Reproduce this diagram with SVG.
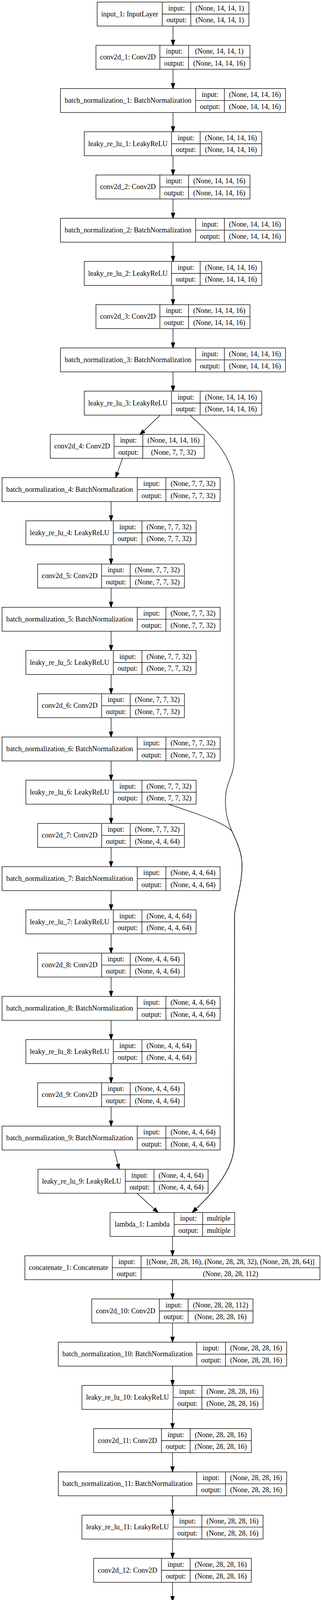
<svg xmlns="http://www.w3.org/2000/svg" width="825" height="4389" viewBox="0 0 825 4389">
<style>
text{font-family:"Liberation Serif","Times New Roman",Times,serif;font-size:18.2px;text-anchor:middle;fill:#000}
.frame{fill:none;stroke:#000;stroke-width:1.33}
#edges path{fill:none;stroke:#000;stroke-width:1.33;marker-end:url(#arr)}
</style>
<defs>
<marker id="arr" markerUnits="userSpaceOnUse" viewBox="0 -5 14 10" refX="0" refY="0" markerWidth="14" markerHeight="10" orient="auto" overflow="visible"><path d="M0,-4.67L13.33,0L0,4.67Z" fill="#000" stroke="#000" stroke-width="1.33"/></marker>
<g id="f-in"><rect x="248.9" y="0" width="388.8" height="61.33"/><path d="M415.7,0V61.33M488.8,0V61.33M415.7,30.67H637.7"/></g>
<g id="f-cT"><rect x="245.8" y="0" width="394.7" height="61.33"/><path d="M409.6,0V61.33M483.1,0V61.33M409.6,30.67H640.5"/></g>
<g id="f-bT"><rect x="154.9" y="0" width="576.6" height="61.33"/><path d="M501.2,0V61.33M574.8,0V61.33M501.2,30.67H731.5"/></g>
<g id="f-lT"><rect x="215.8" y="0" width="454.8" height="61.33"/><path d="M439.5,0V61.33M512.8,0V61.33M439.5,30.67H670.6"/></g>
<g id="f-c4"><rect x="128.7" y="0" width="394.6" height="61.33"/><path d="M292.2,0V61.33M365.8,0V61.33M292.2,30.67H523.3"/></g>
<g id="f-bM"><rect x="5.33" y="0" width="558.67" height="61.33"/><path d="M351.6,0V61.33M425.1,0V61.33M351.6,30.67H564"/></g>
<g id="f-lM"><rect x="66.3" y="0" width="436.2" height="61.33"/><path d="M290.4,0V61.33M363.6,0V61.33M290.4,30.67H502.5"/></g>
<g id="f-cM"><rect x="96.3" y="0" width="376.2" height="61.33"/><path d="M260.4,0V61.33M333.6,0V61.33M260.4,30.67H472.5"/></g>
<g id="f-l9"><rect x="97.3" y="0" width="435.9" height="61.33"/><path d="M321,0V61.33M394.6,0V61.33M321,30.67H533.2"/></g>
<g id="f-lam"><rect x="282" y="0" width="319.4" height="61.33"/><path d="M446.2,0V61.33M519.3,0V61.33M446.2,30.67H601.4"/></g>
<g id="f-cat"><rect x="63.7" y="0" width="756" height="61.33"/><path d="M287.8,0V61.33M361.5,0V61.33M287.8,30.67H819.7"/></g>
<g id="f-c10"><rect x="235.2" y="0" width="413" height="61.33"/><path d="M408.3,0V61.33M482,0V61.33M408.3,30.67H648.2"/></g>
<g id="f-bB"><rect x="149.4" y="0" width="585.1" height="61.33"/><path d="M504,0V61.33M577.7,0V61.33M504,30.67H734.5"/></g>
<g id="f-lB"><rect x="209.9" y="0" width="464.1" height="61.33"/><path d="M443.5,0V61.33M517.2,0V61.33M443.5,30.67H674"/></g>
<g id="f-cB"><rect x="239.9" y="0" width="404.1" height="61.33"/><path d="M413.6,0V61.33M487.2,0V61.33M413.6,30.67H644"/></g>
</defs>
<rect x="0" y="0" width="825" height="4389" fill="#fff"/>

<g id="input_1" transform="translate(0,5.33)"><use href="#f-in" class="frame"/><text x="332.3" y="36.4">input_1: InputLayer</text><text x="452.25" y="21.3">input:</text><text x="452.25" y="52">output:</text><text x="563.25" y="21.3">(None, 14, 14, 1)</text><text x="563.25" y="52">(None, 14, 14, 1)</text></g>
<g id="conv2d_1" transform="translate(0,116)"><use href="#f-cT" class="frame"/><text x="327.7" y="36.4">conv2d_1: Conv2D</text><text x="446.35" y="21.3">input:</text><text x="446.35" y="52">output:</text><text x="561.8" y="21.3">(None, 14, 14, 1)</text><text x="561.8" y="52">(None, 14, 14, 16)</text></g>
<g id="batch_normalization_1" transform="translate(0,226.67)"><use href="#f-bT" class="frame"/><text x="328.05" y="36.4">batch_normalization_1: BatchNormalization</text><text x="538" y="21.3">input:</text><text x="538" y="52">output:</text><text x="653.15" y="21.3">(None, 14, 14, 16)</text><text x="653.15" y="52">(None, 14, 14, 16)</text></g>
<g id="leaky_re_lu_1" transform="translate(0,337.33)"><use href="#f-lT" class="frame"/><text x="327.65" y="36.4">leaky_re_lu_1: LeakyReLU</text><text x="476.15" y="21.3">input:</text><text x="476.15" y="52">output:</text><text x="591.7" y="21.3">(None, 14, 14, 16)</text><text x="591.7" y="52">(None, 14, 14, 16)</text></g>
<g id="conv2d_2" transform="translate(0,448)"><use href="#f-cT" class="frame"/><text x="327.7" y="36.4">conv2d_2: Conv2D</text><text x="446.35" y="21.3">input:</text><text x="446.35" y="52">output:</text><text x="561.8" y="21.3">(None, 14, 14, 16)</text><text x="561.8" y="52">(None, 14, 14, 16)</text></g>
<g id="batch_normalization_2" transform="translate(0,558.67)"><use href="#f-bT" class="frame"/><text x="328.05" y="36.4">batch_normalization_2: BatchNormalization</text><text x="538" y="21.3">input:</text><text x="538" y="52">output:</text><text x="653.15" y="21.3">(None, 14, 14, 16)</text><text x="653.15" y="52">(None, 14, 14, 16)</text></g>
<g id="leaky_re_lu_2" transform="translate(0,669.33)"><use href="#f-lT" class="frame"/><text x="327.65" y="36.4">leaky_re_lu_2: LeakyReLU</text><text x="476.15" y="21.3">input:</text><text x="476.15" y="52">output:</text><text x="591.7" y="21.3">(None, 14, 14, 16)</text><text x="591.7" y="52">(None, 14, 14, 16)</text></g>
<g id="conv2d_3" transform="translate(0,780)"><use href="#f-cT" class="frame"/><text x="327.7" y="36.4">conv2d_3: Conv2D</text><text x="446.35" y="21.3">input:</text><text x="446.35" y="52">output:</text><text x="561.8" y="21.3">(None, 14, 14, 16)</text><text x="561.8" y="52">(None, 14, 14, 16)</text></g>
<g id="batch_normalization_3" transform="translate(0,890.67)"><use href="#f-bT" class="frame"/><text x="328.05" y="36.4">batch_normalization_3: BatchNormalization</text><text x="538" y="21.3">input:</text><text x="538" y="52">output:</text><text x="653.15" y="21.3">(None, 14, 14, 16)</text><text x="653.15" y="52">(None, 14, 14, 16)</text></g>
<g id="leaky_re_lu_3" transform="translate(0,1001.33)"><use href="#f-lT" class="frame"/><text x="327.65" y="36.4">leaky_re_lu_3: LeakyReLU</text><text x="476.15" y="21.3">input:</text><text x="476.15" y="52">output:</text><text x="591.7" y="21.3">(None, 14, 14, 16)</text><text x="591.7" y="52">(None, 14, 14, 16)</text></g>
<g id="conv2d_4" transform="translate(0,1112)"><use href="#f-c4" class="frame"/><text x="210.45" y="36.4">conv2d_4: Conv2D</text><text x="329" y="21.3">input:</text><text x="329" y="52">output:</text><text x="444.55" y="21.3">(None, 14, 14, 16)</text><text x="444.55" y="52">(None, 7, 7, 32)</text></g>
<g id="batch_normalization_4" transform="translate(0,1222.67)"><use href="#f-bM" class="frame"/><text x="178.47" y="36.4">batch_normalization_4: BatchNormalization</text><text x="388.35" y="21.3">input:</text><text x="388.35" y="52">output:</text><text x="494.55" y="21.3">(None, 7, 7, 32)</text><text x="494.55" y="52">(None, 7, 7, 32)</text></g>
<g id="leaky_re_lu_4" transform="translate(0,1333.33)"><use href="#f-lM" class="frame"/><text x="178.35" y="36.4">leaky_re_lu_4: LeakyReLU</text><text x="327" y="21.3">input:</text><text x="327" y="52">output:</text><text x="433.05" y="21.3">(None, 7, 7, 32)</text><text x="433.05" y="52">(None, 7, 7, 32)</text></g>
<g id="conv2d_5" transform="translate(0,1444)"><use href="#f-cM" class="frame"/><text x="178.35" y="36.4">conv2d_5: Conv2D</text><text x="297" y="21.3">input:</text><text x="297" y="52">output:</text><text x="403.05" y="21.3">(None, 7, 7, 32)</text><text x="403.05" y="52">(None, 7, 7, 32)</text></g>
<g id="batch_normalization_5" transform="translate(0,1554.67)"><use href="#f-bM" class="frame"/><text x="178.47" y="36.4">batch_normalization_5: BatchNormalization</text><text x="388.35" y="21.3">input:</text><text x="388.35" y="52">output:</text><text x="494.55" y="21.3">(None, 7, 7, 32)</text><text x="494.55" y="52">(None, 7, 7, 32)</text></g>
<g id="leaky_re_lu_5" transform="translate(0,1665.33)"><use href="#f-lM" class="frame"/><text x="178.35" y="36.4">leaky_re_lu_5: LeakyReLU</text><text x="327" y="21.3">input:</text><text x="327" y="52">output:</text><text x="433.05" y="21.3">(None, 7, 7, 32)</text><text x="433.05" y="52">(None, 7, 7, 32)</text></g>
<g id="conv2d_6" transform="translate(0,1776)"><use href="#f-cM" class="frame"/><text x="178.35" y="36.4">conv2d_6: Conv2D</text><text x="297" y="21.3">input:</text><text x="297" y="52">output:</text><text x="403.05" y="21.3">(None, 7, 7, 32)</text><text x="403.05" y="52">(None, 7, 7, 32)</text></g>
<g id="batch_normalization_6" transform="translate(0,1886.67)"><use href="#f-bM" class="frame"/><text x="178.47" y="36.4">batch_normalization_6: BatchNormalization</text><text x="388.35" y="21.3">input:</text><text x="388.35" y="52">output:</text><text x="494.55" y="21.3">(None, 7, 7, 32)</text><text x="494.55" y="52">(None, 7, 7, 32)</text></g>
<g id="leaky_re_lu_6" transform="translate(0,1997.33)"><use href="#f-lM" class="frame"/><text x="178.35" y="36.4">leaky_re_lu_6: LeakyReLU</text><text x="327" y="21.3">input:</text><text x="327" y="52">output:</text><text x="433.05" y="21.3">(None, 7, 7, 32)</text><text x="433.05" y="52">(None, 7, 7, 32)</text></g>
<g id="conv2d_7" transform="translate(0,2108)"><use href="#f-cM" class="frame"/><text x="178.35" y="36.4">conv2d_7: Conv2D</text><text x="297" y="21.3">input:</text><text x="297" y="52">output:</text><text x="403.05" y="21.3">(None, 7, 7, 32)</text><text x="403.05" y="52">(None, 4, 4, 64)</text></g>
<g id="batch_normalization_7" transform="translate(0,2218.67)"><use href="#f-bM" class="frame"/><text x="178.47" y="36.4">batch_normalization_7: BatchNormalization</text><text x="388.35" y="21.3">input:</text><text x="388.35" y="52">output:</text><text x="494.55" y="21.3">(None, 4, 4, 64)</text><text x="494.55" y="52">(None, 4, 4, 64)</text></g>
<g id="leaky_re_lu_7" transform="translate(0,2329.33)"><use href="#f-lM" class="frame"/><text x="178.35" y="36.4">leaky_re_lu_7: LeakyReLU</text><text x="327" y="21.3">input:</text><text x="327" y="52">output:</text><text x="433.05" y="21.3">(None, 4, 4, 64)</text><text x="433.05" y="52">(None, 4, 4, 64)</text></g>
<g id="conv2d_8" transform="translate(0,2440)"><use href="#f-cM" class="frame"/><text x="178.35" y="36.4">conv2d_8: Conv2D</text><text x="297" y="21.3">input:</text><text x="297" y="52">output:</text><text x="403.05" y="21.3">(None, 4, 4, 64)</text><text x="403.05" y="52">(None, 4, 4, 64)</text></g>
<g id="batch_normalization_8" transform="translate(0,2550.67)"><use href="#f-bM" class="frame"/><text x="178.47" y="36.4">batch_normalization_8: BatchNormalization</text><text x="388.35" y="21.3">input:</text><text x="388.35" y="52">output:</text><text x="494.55" y="21.3">(None, 4, 4, 64)</text><text x="494.55" y="52">(None, 4, 4, 64)</text></g>
<g id="leaky_re_lu_8" transform="translate(0,2661.33)"><use href="#f-lM" class="frame"/><text x="178.35" y="36.4">leaky_re_lu_8: LeakyReLU</text><text x="327" y="21.3">input:</text><text x="327" y="52">output:</text><text x="433.05" y="21.3">(None, 4, 4, 64)</text><text x="433.05" y="52">(None, 4, 4, 64)</text></g>
<g id="conv2d_9" transform="translate(0,2772)"><use href="#f-cM" class="frame"/><text x="178.35" y="36.4">conv2d_9: Conv2D</text><text x="297" y="21.3">input:</text><text x="297" y="52">output:</text><text x="403.05" y="21.3">(None, 4, 4, 64)</text><text x="403.05" y="52">(None, 4, 4, 64)</text></g>
<g id="batch_normalization_9" transform="translate(0,2882.67)"><use href="#f-bM" class="frame"/><text x="178.47" y="36.4">batch_normalization_9: BatchNormalization</text><text x="388.35" y="21.3">input:</text><text x="388.35" y="52">output:</text><text x="494.55" y="21.3">(None, 4, 4, 64)</text><text x="494.55" y="52">(None, 4, 4, 64)</text></g>
<g id="leaky_re_lu_9" transform="translate(0,2993.33)"><use href="#f-l9" class="frame"/><text x="209.15" y="36.4">leaky_re_lu_9: LeakyReLU</text><text x="357.8" y="21.3">input:</text><text x="357.8" y="52">output:</text><text x="463.9" y="21.3">(None, 4, 4, 64)</text><text x="463.9" y="52">(None, 4, 4, 64)</text></g>
<g id="lambda_1" transform="translate(0,3104)"><use href="#f-lam" class="frame"/><text x="364.1" y="36.4">lambda_1: Lambda</text><text x="482.75" y="21.3">input:</text><text x="482.75" y="52">output:</text><text x="560.35" y="21.3">multiple</text><text x="560.35" y="52">multiple</text></g>
<g id="concatenate_1" transform="translate(0,3214.67)"><use href="#f-cat" class="frame"/><text x="175.75" y="36.4">concatenate_1: Concatenate</text><text x="324.65" y="21.3">input:</text><text x="324.65" y="52">output:</text><text x="590.6" y="21.3">[(None, 28, 28, 16), (None, 28, 28, 32), (None, 28, 28, 64)]</text><text x="590.6" y="52">(None, 28, 28, 112)</text></g>
<g id="conv2d_10" transform="translate(0,3325.33)"><use href="#f-c10" class="frame"/><text x="321.75" y="36.4">conv2d_10: Conv2D</text><text x="445.15" y="21.3">input:</text><text x="445.15" y="52">output:</text><text x="565.1" y="21.3">(None, 28, 28, 112)</text><text x="565.1" y="52">(None, 28, 28, 16)</text></g>
<g id="batch_normalization_10" transform="translate(0,3436)"><use href="#f-bB" class="frame"/><text x="326.7" y="36.4">batch_normalization_10: BatchNormalization</text><text x="540.85" y="21.3">input:</text><text x="540.85" y="52">output:</text><text x="656.1" y="21.3">(None, 28, 28, 16)</text><text x="656.1" y="52">(None, 28, 28, 16)</text></g>
<g id="leaky_re_lu_10" transform="translate(0,3546.67)"><use href="#f-lB" class="frame"/><text x="326.7" y="36.4">leaky_re_lu_10: LeakyReLU</text><text x="480.35" y="21.3">input:</text><text x="480.35" y="52">output:</text><text x="595.6" y="21.3">(None, 28, 28, 16)</text><text x="595.6" y="52">(None, 28, 28, 16)</text></g>
<g id="conv2d_11" transform="translate(0,3657.33)"><use href="#f-cB" class="frame"/><text x="326.75" y="36.4">conv2d_11: Conv2D</text><text x="450.4" y="21.3">input:</text><text x="450.4" y="52">output:</text><text x="565.6" y="21.3">(None, 28, 28, 16)</text><text x="565.6" y="52">(None, 28, 28, 16)</text></g>
<g id="batch_normalization_11" transform="translate(0,3768)"><use href="#f-bB" class="frame"/><text x="326.7" y="36.4">batch_normalization_11: BatchNormalization</text><text x="540.85" y="21.3">input:</text><text x="540.85" y="52">output:</text><text x="656.1" y="21.3">(None, 28, 28, 16)</text><text x="656.1" y="52">(None, 28, 28, 16)</text></g>
<g id="leaky_re_lu_11" transform="translate(0,3878.67)"><use href="#f-lB" class="frame"/><text x="326.7" y="36.4">leaky_re_lu_11: LeakyReLU</text><text x="480.35" y="21.3">input:</text><text x="480.35" y="52">output:</text><text x="595.6" y="21.3">(None, 28, 28, 16)</text><text x="595.6" y="52">(None, 28, 28, 16)</text></g>
<g id="conv2d_12" transform="translate(0,3989.33)"><use href="#f-cB" class="frame"/><text x="326.75" y="36.4">conv2d_12: Conv2D</text><text x="450.4" y="21.3">input:</text><text x="450.4" y="52">output:</text><text x="565.6" y="21.3">(None, 28, 28, 16)</text><text x="565.6" y="52">(None, 28, 28, 16)</text></g>
<g id="batch_normalization_12" transform="translate(0,4100)"><use href="#f-bB" class="frame"/><text x="326.7" y="36.4">batch_normalization_12: BatchNormalization</text><text x="540.85" y="21.3">input:</text><text x="540.85" y="52">output:</text><text x="656.1" y="21.3">(None, 28, 28, 16)</text><text x="656.1" y="52">(None, 28, 28, 16)</text></g>
<g id="leaky_re_lu_12" transform="translate(0,4210.67)"><use href="#f-lB" class="frame"/><text x="326.7" y="36.4">leaky_re_lu_12: LeakyReLU</text><text x="480.35" y="21.3">input:</text><text x="480.35" y="52">output:</text><text x="595.6" y="21.3">(None, 28, 28, 16)</text><text x="595.6" y="52">(None, 28, 28, 16)</text></g>
<g id="conv2d_13" transform="translate(0,4321.33)"><use href="#f-cB" class="frame"/><text x="326.75" y="36.4">conv2d_13: Conv2D</text><text x="450.4" y="21.3">input:</text><text x="450.4" y="52">output:</text><text x="565.6" y="21.3">(None, 28, 28, 16)</text><text x="565.6" y="52">(None, 28, 28, 1)</text></g>

<g id="edges">
<path d="M443.3,66.67V102.67"/>
<path d="M443.3,177.33V213.33"/>
<path d="M443.3,288V324"/>
<path d="M443.3,398.67V434.67"/>
<path d="M443.3,509.33V545.33"/>
<path d="M443.3,620V656"/>
<path d="M443.3,730.67V766.67"/>
<path d="M443.3,841.33V877.33"/>
<path d="M443.3,952V988"/>
<path d="M410.4,1062.67L368.1,1103.45"/>
<path d="M313.9,1173.33L300.85,1210.1"/>
<path d="M284.6,1284V1320"/>
<path d="M284.6,1394.67V1430.67"/>
<path d="M284.6,1505.33V1541.33"/>
<path d="M284.6,1616V1652"/>
<path d="M284.6,1726.67V1762.67"/>
<path d="M284.6,1837.33V1873.33"/>
<path d="M284.6,1948V1984"/>
<path d="M284.6,2058.67V2094.67"/>
<path d="M284.6,2169.33V2205.33"/>
<path d="M284.6,2280V2316"/>
<path d="M284.6,2390.67V2426.67"/>
<path d="M284.6,2501.33V2537.33"/>
<path d="M284.6,2612V2648"/>
<path d="M284.6,2722.67V2758.67"/>
<path d="M284.6,2833.33V2869.33"/>
<path d="M293.1,2944L302,2980.4"/>
<path d="M351,3054.67L395.15,3095"/>
<path d="M486.8,1062.67C515,1090 600,1160 600,1240L600,1940C600,1990 577.5,2000 577.5,2050C577.5,2090 588,2113 594,2127C604,2150 620,2180 620,2213C621,2260 606,2300 601,2340L600,2930C600,2990 550,3050 502.5,3094.4"/>
<path d="M431.7,2058.67C480,2076 565,2100 594,2127C604,2150 620,2180 620,2213C621,2260 606,2300 601,2340L600,2930C600,2990 550,3050 502.5,3094.4"/>
<path d="M442,3165.33V3201.33"/>
<path d="M442,3276V3312"/>
<path d="M442,3386.67V3422.67"/>
<path d="M442,3497.33V3533.33"/>
<path d="M442,3608V3644"/>
<path d="M442,3718.67V3754.67"/>
<path d="M442,3829.33V3865.33"/>
<path d="M442,3940V3976"/>
<path d="M442,4050.67V4086.67"/>
<path d="M442,4161.33V4197.33"/>
<path d="M442,4272V4308"/>
</g>
</svg>
